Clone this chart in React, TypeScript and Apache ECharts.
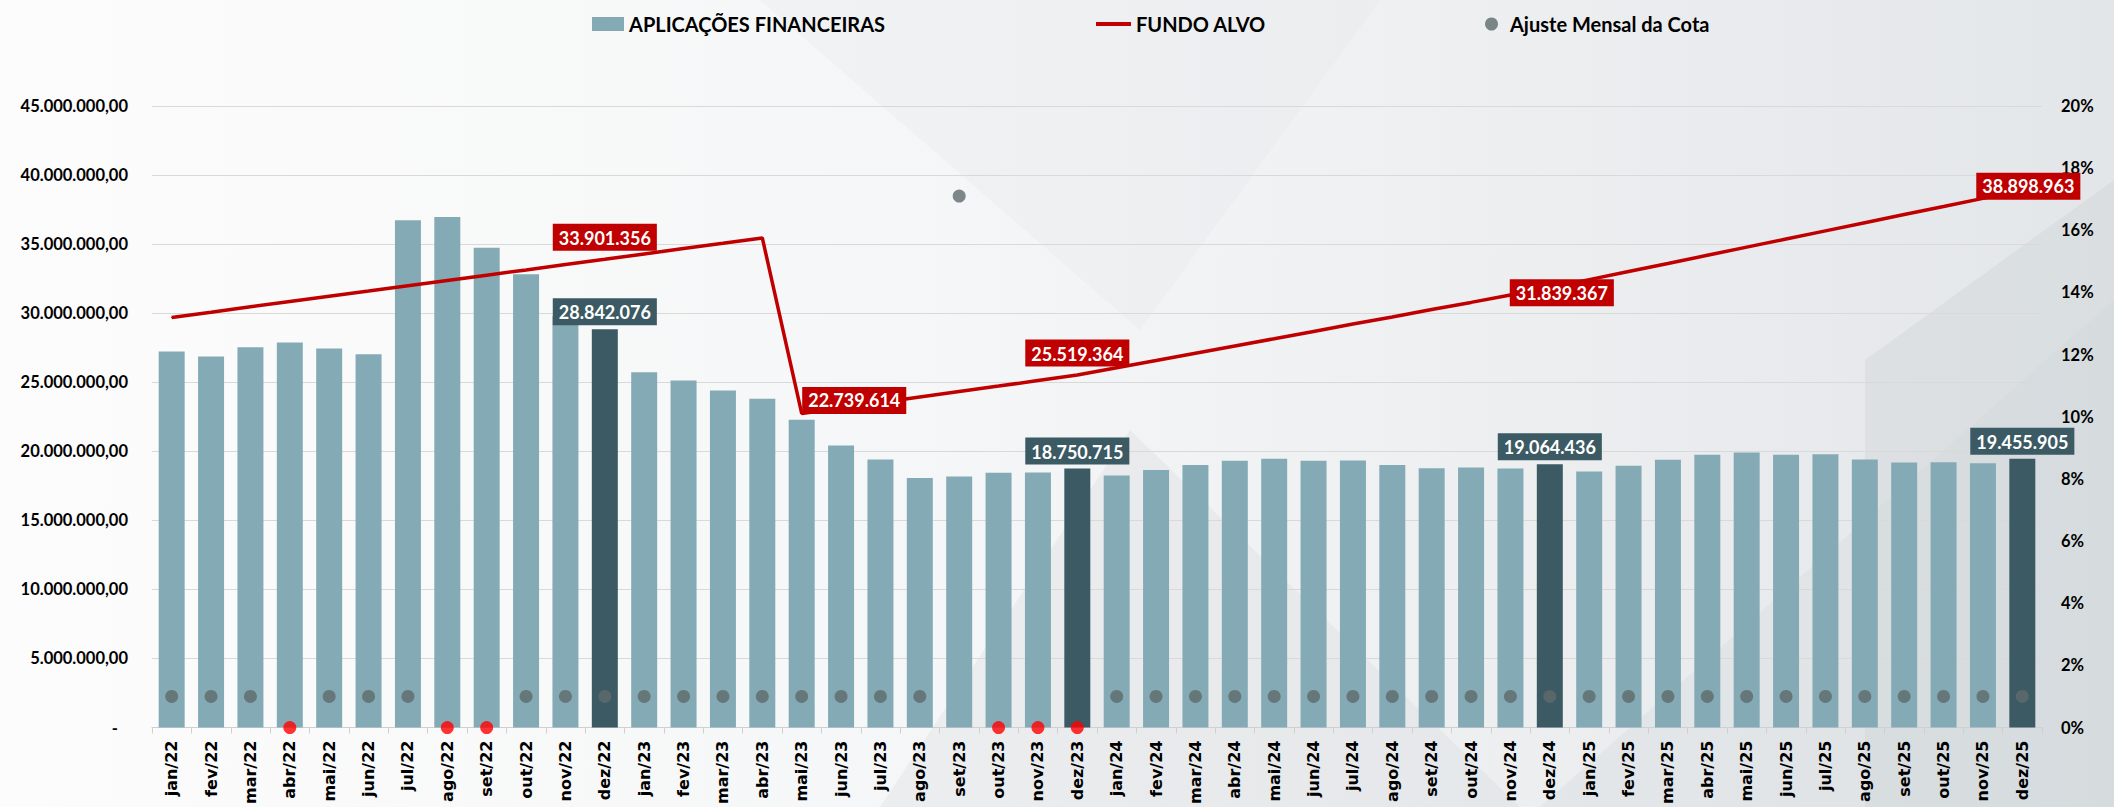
import React, { useEffect, useRef } from "react";
import * as echarts from "echarts";

const categories = [
  "jan/22", "fev/22", "mar/22", "abr/22", "mai/22", "jun/22", "jul/22", "ago/22", "set/22", "out/22", "nov/22", "dez/22",
  "jan/23", "fev/23", "mar/23", "abr/23", "mai/23", "jun/23", "jul/23", "ago/23", "set/23", "out/23", "nov/23", "dez/23",
  "jan/24", "fev/24", "mar/24", "abr/24", "mai/24", "jun/24", "jul/24", "ago/24", "set/24", "out/24", "nov/24", "dez/24",
  "jan/25", "fev/25", "mar/25", "abr/25", "mai/25", "jun/25", "jul/25", "ago/25", "set/25", "out/25", "nov/25", "dez/25",
];

const aplicacoesFinanceiras = [
  27220000, 26860000, 27540000, 27870000, 27440000, 27030000, 36720000, 36960000, 34730000, 32810000, 29800000, 28842076,
  25730000, 25130000, 24410000, 23810000, 22290000, 20420000, 19410000, 18060000, 18180000, 18450000, 18470000, 18750715,
  18250000, 18640000, 19000000, 19310000, 19460000, 19310000, 19340000, 19000000, 18780000, 18830000, 18760000, 19064436,
  18540000, 18950000, 19380000, 19750000, 19910000, 19750000, 19790000, 19410000, 19190000, 19210000, 19140000, 19455905,
];

const fundoAlvo = [
  29690000, 30070000, 30460000, 30840000, 31220000, 31600000, 31990000, 32370000, 32750000, 33130000, 33520000, 33901356,
  34290000, 34680000, 35060000, 35450000, 22739614, 23140000, 23530000, 23930000, 24330000, 24720000, 25120000, 25519364,
  26050000, 26570000, 27100000, 27630000, 28150000, 28680000, 29210000, 29730000, 30260000, 30780000, 31310000, 31839367,
  32430000, 33020000, 33600000, 34190000, 34780000, 35370000, 35960000, 36550000, 37140000, 37720000, 38310000, 38898963,
];

const ajusteMensalCota = [
  0.01, 0.01, 0.01, 0, 0.01, 0.01, 0.01, 0, 0, 0.01, 0.01, 0.01,
  0.01, 0.01, 0.01, 0.01, 0.01, 0.01, 0.01, 0.01, 0.171, 0, 0, 0,
  0.01, 0.01, 0.01, 0.01, 0.01, 0.01, 0.01, 0.01, 0.01, 0.01, 0.01, 0.01,
  0.01, 0.01, 0.01, 0.01, 0.01, 0.01, 0.01, 0.01, 0.01, 0.01, 0.01, 0.01,
];

const fundoAlvoLabelIndices = [11, 16, 23, 35, 47];

const FONT = "Lato, 'Open Sans', sans-serif";
const BAR_LIGHT = "#84abb5";
const BAR_DARK = "#3b5a63";
const RED = "#c00000";
const DOT = "#5f6a6b";

function thousands(n: number): string {
  const s = Math.round(Math.abs(n)).toString();
  return s.replace(/\B(?=(\d{3})+(?!\d))/g, ".");
}

function leftAxisFmt(v: number): string {
  if (v === 0) return "{dash|-}";
  return thousands(v) + ",00";
}

export default function App() {
  const ref = useRef<HTMLDivElement>(null);

  useEffect(() => {
    if (!ref.current) return;
    const chart = echarts.init(ref.current, undefined, { renderer: "svg" });

    const barData = aplicacoesFinanceiras.map((v, i) => {
      const isDec = categories[i].startsWith("dez");
      return {
        value: v,
        itemStyle: { color: isDec ? BAR_DARK : BAR_LIGHT },
        label: isDec
          ? {
              show: true,
              position: "top",
              distance: 4,
              formatter: (p: any) => thousands(p.value),
              backgroundColor: BAR_DARK,
              color: "#ffffff",
              fontFamily: FONT,
              fontWeight: "bold",
              fontSize: 18,
              padding: [5, 6, 4, 6],
            }
          : { show: false },
      };
    });

    const lineLabelPos: Record<number, any> = {
      11: { position: "top", distance: 8, offset: [0, 0] },
      16: { position: "right", distance: 0, offset: [0, -13] },
      23: { position: "top", distance: 8, offset: [0, 0] },
      35: { position: "inside", offset: [12, 5] },
      47: { position: "inside", offset: [6, -4] },
    };

    const lineData = fundoAlvo.map((v, i) => {
      const show = fundoAlvoLabelIndices.includes(i);
      return {
        value: v,
        label: show
          ? {
              show: true,
              ...lineLabelPos[i],
              formatter: (p: any) => thousands(p.value),
              backgroundColor: RED,
              color: "#ffffff",
              fontFamily: FONT,
              fontWeight: "bold",
              fontSize: 18,
              padding: [5, 6, 4, 6],
            }
          : { show: false },
      };
    });

    const dotData = ajusteMensalCota.map((v) => ({
      value: v,
      itemStyle: { color: v <= 0 ? "#ff0000" : DOT },
    }));

    const legendText = {
      fontFamily: FONT,
      fontWeight: "bold",
      fontSize: 20,
      color: "#000000",
    };

    const option: any = {
      animation: false,
      backgroundColor: new echarts.graphic.LinearGradient(0, 0, 1, 0, [
        { offset: 0, color: "#fcfcfc" },
        { offset: 0.45, color: "#f5f6f7" },
        { offset: 1, color: "#e3e6e9" },
      ]),
      graphic: [
        { type: "polygon", z: -5, silent: true, shape: { points: [[760, 0], [1380, 0], [1140, 330]] }, style: { fill: "rgba(228,231,234,0.35)" } },
        { type: "polygon", z: -5, silent: true, shape: { points: [[880, 807], [1130, 430], [1520, 807]] }, style: { fill: "rgba(212,216,220,0.3)" } },
        { type: "polygon", z: -5, silent: true, shape: { points: [[1865, 360], [2114, 180], [2114, 807], [1865, 807]] }, style: { fill: "rgba(198,204,209,0.32)" } },
        { type: "polygon", z: -5, silent: true, shape: { points: [[1540, 807], [2114, 300], [2114, 807]] }, style: { fill: "rgba(205,210,214,0.25)" } },
      ],
      legend: [
        {
          data: ["APLICAÇÕES FINANCEIRAS"],
          left: 587,
          top: 9,
          icon: "rect",
          itemWidth: 32,
          itemHeight: 14,
          textStyle: legendText,
        },
        {
          data: ["FUNDO ALVO"],
          left: 1091,
          top: 9,
          icon: "rect",
          itemWidth: 35,
          itemHeight: 4,
          textStyle: legendText,
        },
        {
          data: ["Ajuste Mensal da Cota"],
          left: 1480,
          top: 9,
          icon: "circle",
          itemWidth: 13,
          itemHeight: 13,
          textStyle: { ...legendText, padding: [0, 0, 0, 7] },
        },
      ],
      grid: { left: 152, right: 72, top: 106, bottom: 77, containLabel: false },
      xAxis: {
        type: "category",
        data: categories,
        axisLine: { lineStyle: { color: "#d0d0d0", width: 1 } },
        axisTick: { show: true, length: 6, lineStyle: { color: "#d0d0d0" } },
        axisLabel: {
          rotate: 90,
          interval: 0,
          margin: 13,
          color: "#000000",
          fontFamily: "'DejaVu Sans', sans-serif",
          fontWeight: "bold",
          fontSize: 16,
        },
      },
      yAxis: [
        {
          type: "value",
          min: 0,
          max: 45000000,
          interval: 5000000,
          axisLine: { show: false },
          axisTick: { show: false },
          splitLine: { lineStyle: { color: "#d9d9d9", width: 1 } },
          axisLabel: {
            margin: 24,
            color: "#000000",
            fontFamily: FONT,
            fontWeight: "bold",
            fontSize: 16.5,
            formatter: leftAxisFmt,
            rich: { dash: { fontFamily: FONT, fontWeight: "bold", fontSize: 16.5, color: "#000", padding: [0, 10, 0, 0] } },
          },
        },
        {
          type: "value",
          position: "right",
          min: 0,
          max: 0.2,
          interval: 0.02,
          axisLine: { show: false },
          axisTick: { show: false },
          splitLine: { show: false },
          axisLabel: {
            margin: 19,
            color: "#000000",
            fontFamily: FONT,
            fontWeight: "bold",
            fontSize: 16.5,
            formatter: (v: number) => Math.round(v * 100) + "%",
          },
        },
      ],
      series: [
        {
          name: "APLICAÇÕES FINANCEIRAS",
          type: "bar",
          yAxisIndex: 0,
          data: barData,
          barCategoryGap: "34%",
          itemStyle: { color: BAR_LIGHT },
          z: 2,
        },
        {
          name: "FUNDO ALVO",
          type: "line",
          yAxisIndex: 0,
          data: lineData,
          symbol: "circle",
          symbolSize: 1,
          showSymbol: true,
          itemStyle: { color: RED },
          lineStyle: { color: RED, width: 3.5 },
          z: 4,
        },
        {
          name: "Ajuste Mensal da Cota",
          type: "scatter",
          yAxisIndex: 1,
          data: dotData,
          symbol: "circle",
          symbolSize: 13,
          clip: false,
          itemStyle: { color: DOT },
          z: 5,
        },
      ],
    };

    chart.setOption(option);
    return () => {
      chart.dispose();
    };
  }, []);

  return (
    <div
      ref={ref}
      style={{ position: "absolute", left: 0, top: 0, width: 2114, height: 807 }}
    />
  );
}
